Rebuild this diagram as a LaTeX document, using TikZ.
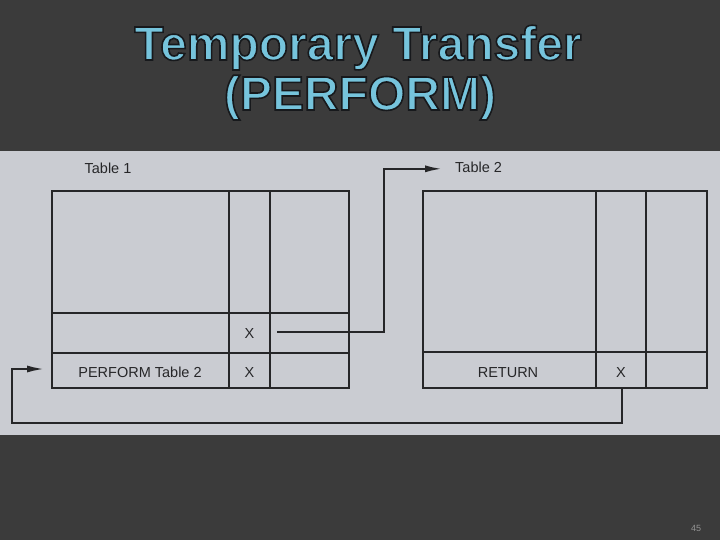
\documentclass[tikz,border=0pt]{standalone}
\usepackage{fontspec}
\setmainfont{Liberation Sans}
\usetikzlibrary{arrows.meta}
\definecolor{bg}{RGB}{59,59,59}
\definecolor{paper}{RGB}{202,204,210}
\definecolor{ink}{RGB}{38,38,40}
\definecolor{titleblue}{RGB}{118,196,220}
\newcommand{\outlinedtext}[1]{\special{pdf:literal direct q 1.6 w 2 Tr 0.09 0.10 0.11 RG}#1\special{pdf:literal direct Q}}
\begin{document}
\begin{tikzpicture}[x=1pt,y=-1pt,
  tline/.style={draw=ink,line width=2.8pt},
  conn/.style={draw=ink,line width=2.4pt,-{Latex[length=18pt,width=7pt]}},
  lbl/.style={text=ink,font=\fontsize{14.5}{14.5}\selectfont,inner sep=0pt,anchor=base},
  ttl/.style={font=\fontsize{48}{48}\selectfont\bfseries,inner sep=0pt,anchor=base,text=titleblue}]
\useasboundingbox (0,0) rectangle (720,540);
\fill[bg] (0,0) rectangle (720,540);
\fill[paper] (0,151) rectangle (720,435);
% title
\node[ttl] (title1) at (358,60) {\outlinedtext{Temporary Transfer}};
\node[ttl] (title2) at (360,110) {\outlinedtext{(PERFORM)}};
% table 1
\node[lbl] (t1) at (108,174) {Table 1};
\draw[tline] (52,191) rectangle (349,388);
\draw[tline] (229,191) -- (229,388);
\draw[tline] (270,191) -- (270,388);
\draw[tline] (52,313) -- (349,313);
\draw[tline] (52,353) -- (349,353);
\node[lbl] (perf) at (140,377) {PERFORM Table 2};
\node[lbl] (x1) at (249.5,338) {X};
\node[lbl] (x2) at (249.5,377) {X};
% table 2
\node[lbl,anchor=base west] (t2) at (455,173) {Table 2};
\draw[tline] (423,191) rectangle (707,388);
\draw[tline] (596,191) -- (596,388);
\draw[tline] (646,191) -- (646,388);
\draw[tline] (423,352) -- (707,352);
\node[lbl] (ret) at (508,377) {RETURN};
\node[lbl] (x3) at (621,377) {X};
% connectors
\coordinate (a1) at (277,332);
\coordinate (c1) at (384,332);
\coordinate (r0) at (622,388);
\coordinate (r1) at (622,423);
\coordinate (r2) at (12,423);
\coordinate (r3) at (12,369);
\coordinate (r4) at (45,369);
\draw[conn] (a1) -- (c1) |- ([xshift=-12pt,yshift=-1pt]t2.west);
\draw[conn] (r0) -- (r1) -- (r2) -- (r3) -- (r4);
% page number
\node[text=gray!85,font=\fontsize{9}{9}\selectfont,inner sep=0pt] (pg) at (696,528) {45};
\end{tikzpicture}
\end{document}
